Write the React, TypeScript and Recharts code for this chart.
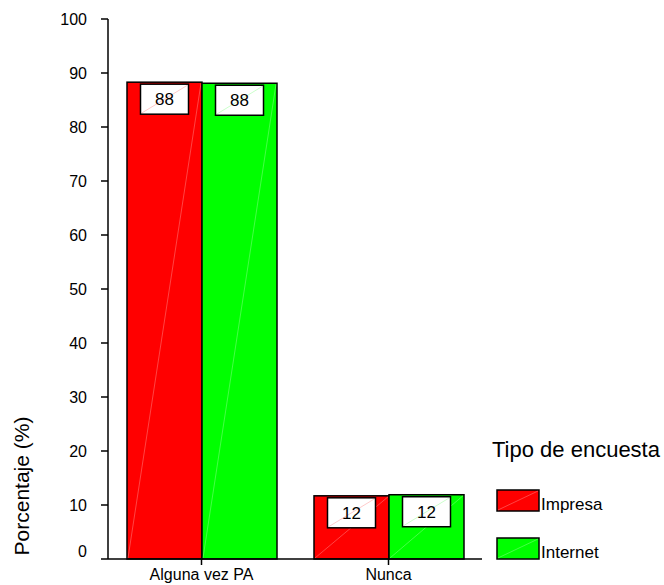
import React from 'react';
import { BarChart, Bar, XAxis, YAxis, Legend, LabelList } from 'recharts';

const categories = ['Alguna vez PA', 'Nunca'];
const impresa = [88.3, 11.7];
const internet = [88.1, 11.9];
const yTicks = [0, 10, 20, 30, 40, 50, 60, 70, 80, 90, 100];
const seriesNames = ['Impresa', 'Internet'];
const seriesColors = ['#ff0000', '#00ff00'];
const legendTitle = 'Tipo de encuesta';
const yTitle = 'Porcentaje (%)';

const FONT = '"Liberation Sans", Arial, sans-serif';

const data = categories.map((name, i) => ({
    name,
    impresa: impresa[i],
    internet: internet[i],
}));

// bar with black outline and the faint diagonal seen in the original
function OutlinedBar(props: any) {
    const { x, y, width, height, fill } = props;
    if (!height || height <= 0) return null;
    return (
        <g>
            <rect x={x} y={y} width={width} height={height} fill={fill} stroke="#000" strokeWidth={1.5} />
            <line x1={x + 1} y1={y + height - 1} x2={x + width - 1} y2={y + 1} stroke="#fff" strokeOpacity={0.45} strokeWidth={0.6} />
        </g>
    );
}

function boxLabel(color: string) {
    return (props: any) => {
        const { x, y, width, value } = props;
        const bw = 48;
        const bh = 30;
        const bx = x + width / 2 - bw / 2;
        const by = y + 2;
        return (
            <g>
                <rect x={bx} y={by} width={bw} height={bh} fill="#fff" stroke="#000" strokeWidth={1.5} />
                <line x1={bx + 1} y1={by + bh - 1} x2={bx + bw - 1} y2={by + 1} stroke={color} strokeOpacity={0.35} strokeWidth={0.6} />
                <text x={bx + bw / 2} y={by + bh / 2} dy="0.36em" textAnchor="middle" fontSize={17} fontFamily={FONT} fill="#000">
                    {Math.round(value)}
                </text>
            </g>
        );
    };
}

function YTick(props: any) {
    const { x, y, payload } = props;
    const shift = payload.value === 0 ? -8 : 0;
    return (
        <text x={x} y={y + shift} dy="0.355em" textAnchor="end" fontSize={16} fontFamily={FONT} fill="#000">
            {payload.value}
        </text>
    );
}

function LegendBox() {
    return (
        <svg width={179} height={155} style={{ display: 'block' }}>
            <text x={7} y={27} fontSize={22} fontFamily={FONT} fill="#000">{legendTitle}</text>
            {seriesNames.map((n, i) => {
                const top = 60 + i * 48;
                return (
                    <g key={n}>
                        <rect x={12} y={top} width={42} height={21} fill={seriesColors[i]} stroke="#000" strokeWidth={1.5} />
                        <line x1={13} y1={top + 20} x2={53} y2={top + 1} stroke="#fff" strokeOpacity={0.45} strokeWidth={0.6} />
                        <text x={56} y={top + 20} fontSize={17} fontFamily={FONT} fill="#000">{n}</text>
                    </g>
                );
            })}
        </svg>
    );
}

export default function App() {
    return (
        <div style={{ width: 664, height: 585, background: '#fff', fontFamily: FONT }}>
            <style>{`body { margin: 0; }`}</style>
            <BarChart
                width={664}
                height={585}
                data={data}
                margin={{ top: 19, right: 182, left: 48, bottom: 0 }}
                barGap={0}
                barSize={75}
            >
                <XAxis
                    dataKey="name"
                    height={26}
                    tickSize={6}
                    tickMargin={4}
                    axisLine={{ stroke: '#000', strokeWidth: 1.5 }}
                    tickLine={{ stroke: '#000', strokeWidth: 1.5 }}
                    tick={{ fill: '#000', fontSize: 16, fontFamily: FONT }}
                    interval={0}
                />
                <XAxis
                    xAxisId="top"
                    orientation="top"
                    dataKey="name"
                    height={0}
                    tick={false}
                    tickLine={false}
                    axisLine={{ stroke: '#000', strokeWidth: 1.5 }}
                />
                <YAxis
                    width={60}
                    domain={[0, 100]}
                    ticks={yTicks}
                    tickSize={7}
                    tickMargin={14}
                    axisLine={{ stroke: '#000', strokeWidth: 1.5 }}
                    tickLine={{ stroke: '#000', strokeWidth: 1.5 }}
                    tick={<YTick />}
                    interval={0}
                    label={{
                        content: () => (
                            <text
                                x={29}
                                y={486}
                                transform="rotate(-90, 29, 486)"
                                textAnchor="middle"
                                fontSize={21}
                                fontFamily={FONT}
                                fill="#000"
                            >
                                {yTitle}
                            </text>
                        ),
                    }}
                />
                <YAxis
                    yAxisId="right"
                    orientation="right"
                    width={0}
                    domain={[0, 100]}
                    tick={false}
                    tickLine={false}
                    axisLine={{ stroke: '#000', strokeWidth: 1.5 }}
                />
                <Legend
                    layout="horizontal"
                    verticalAlign="middle"
                    align="center"
                    content={() => <LegendBox />}
                    wrapperStyle={{ left: 485, top: 430, width: 179, height: 155 }}
                />
                <Bar dataKey="impresa" name={seriesNames[0]} fill={seriesColors[0]} shape={<OutlinedBar />} isAnimationActive={false}>
                    <LabelList dataKey="impresa" content={boxLabel(seriesColors[0])} />
                </Bar>
                <Bar dataKey="internet" name={seriesNames[1]} fill={seriesColors[1]} shape={<OutlinedBar />} isAnimationActive={false}>
                    <LabelList dataKey="internet" content={boxLabel(seriesColors[1])} />
                </Bar>
            </BarChart>
        </div>
    );
}
